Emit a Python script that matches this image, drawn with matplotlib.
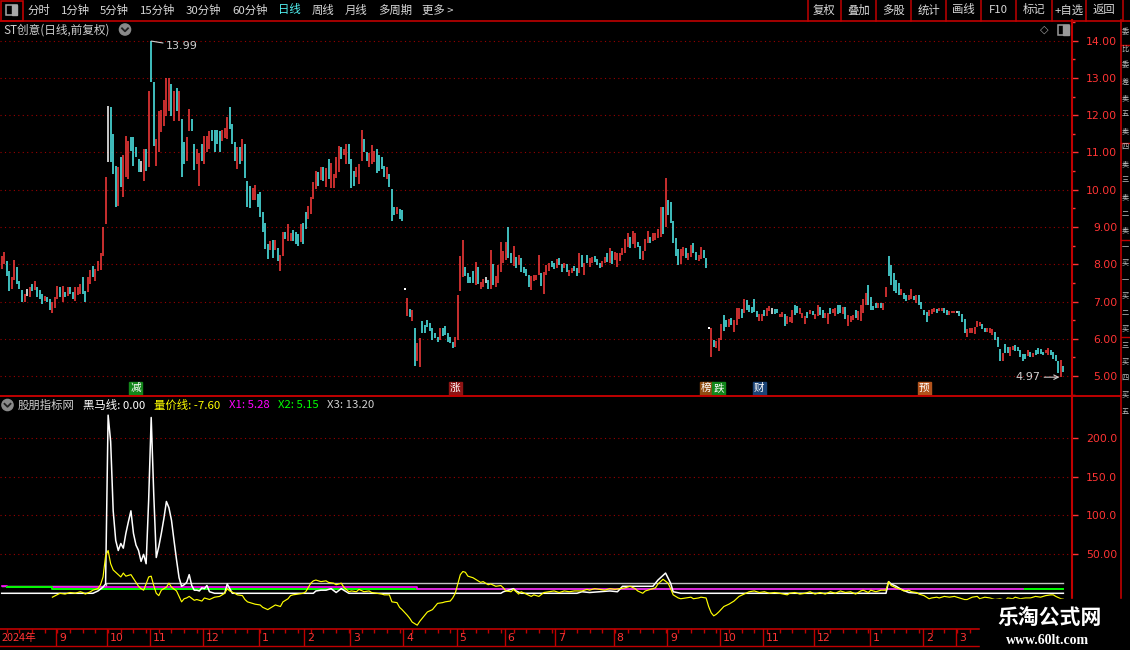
import numpy as np
import matplotlib
matplotlib.use("Agg")
import matplotlib.pyplot as plt
from matplotlib.patches import Rectangle, Circle
from matplotlib import transforms

plt.rcParams['font.family'] = ['Noto Sans CJK SC', 'DejaVu Sans']

# ST创意 daily bars (前复权), one entry per trading day
highs = [
    8.23, 8.32, 8.10, 7.83, 7.65, 8.11, 7.92, 7.56, 7.31, 7.20,
    7.34, 7.38, 7.47, 7.56, 7.40, 7.31, 7.20, 7.16, 7.13, 7.07,
    6.98, 7.11, 7.43, 7.40, 7.43, 7.25, 7.38, 7.40, 7.25, 7.38,
    7.38, 7.47, 7.65, 7.29, 7.65, 7.85, 7.96, 7.87, 8.10, 8.29,
    8.99, 10.35, 12.26, 12.21, 11.50, 10.65, 10.60, 10.87, 10.94, 11.45,
    11.32, 11.42, 11.42, 11.14, 10.82, 10.76, 11.10, 11.10, 12.66, 13.99,
    12.88, 11.36, 12.12, 12.14, 12.41, 13.00, 13.00, 12.84, 12.66, 12.73,
    12.64, 11.90, 11.27, 11.42, 12.17, 11.90, 11.23, 11.10, 10.98, 11.23,
    11.45, 11.45, 11.58, 11.60, 11.60, 11.60, 11.58, 11.60, 11.67, 11.96,
    12.21, 11.76, 11.27, 11.14, 11.14, 11.36, 11.23, 10.24, 10.11, 10.04,
    10.13, 9.88, 9.93, 9.39, 9.12, 8.54, 8.63, 8.65, 8.66, 8.45,
    8.26, 8.86, 8.86, 9.08, 8.83, 8.92, 8.86, 8.81, 9.08, 9.12,
    9.39, 9.57, 9.80, 10.20, 10.51, 10.47, 10.60, 10.60, 10.58, 10.82,
    10.73, 10.42, 10.89, 11.18, 11.14, 11.10, 11.23, 11.23, 10.82, 10.51,
    10.60, 10.69, 11.60, 11.36, 11.00, 10.98, 11.21, 11.03, 11.10, 10.92,
    10.89, 10.64, 10.60, 10.42, 10.02, 9.55, 9.55, 9.48, 9.46, 7.34,
    7.09, 6.79, 6.77, 6.28, 5.88, 6.01, 6.49, 6.37, 6.50, 6.43,
    6.28, 6.16, 6.06, 6.28, 6.28, 6.34, 6.16, 6.06, 5.92, 6.06,
    7.18, 8.22, 8.65, 7.94, 7.76, 7.65, 7.82, 8.07, 7.92, 7.53,
    7.60, 7.67, 7.58, 8.38, 8.01, 7.69, 7.98, 8.61, 8.36, 8.61,
    8.99, 8.29, 8.49, 8.19, 8.25, 8.16, 7.94, 7.86, 7.71, 7.69,
    7.71, 7.71, 8.25, 7.76, 7.78, 7.98, 8.03, 8.10, 8.04, 8.13,
    8.16, 8.01, 8.04, 8.01, 7.85, 7.89, 7.95, 7.89, 8.31, 8.25,
    8.04, 8.25, 8.16, 8.19, 8.22, 8.13, 8.03, 8.10, 8.19, 8.29,
    8.45, 8.36, 8.34, 8.29, 8.31, 8.45, 8.67, 8.85, 8.74, 8.88,
    8.83, 8.61, 8.49, 8.36, 8.67, 8.88, 8.74, 8.83, 8.83, 8.94,
    9.53, 9.55, 10.31, 9.73, 9.68, 9.17, 8.70, 8.40, 8.40, 8.47,
    8.43, 8.29, 8.52, 8.56, 8.34, 8.25, 8.47, 8.38, 8.16, 6.28,
    6.28, 5.98, 5.95, 6.01, 6.41, 6.64, 6.50, 6.52, 6.55, 6.50,
    6.82, 6.82, 6.79, 7.08, 7.04, 6.91, 6.86, 7.06, 6.75, 6.66,
    6.66, 6.77, 6.82, 6.88, 6.82, 6.79, 6.79, 6.66, 6.73, 6.66,
    6.61, 6.59, 6.77, 6.91, 6.88, 6.82, 6.70, 6.61, 6.73, 6.77,
    6.75, 6.66, 6.91, 6.86, 6.77, 6.68, 6.70, 6.82, 6.79, 6.82,
    6.91, 6.91, 6.86, 6.86, 6.64, 6.61, 6.64, 6.77, 6.75, 6.91,
    7.08, 7.24, 7.44, 7.13, 6.88, 6.95, 6.95, 6.95, 6.97, 7.38,
    8.22, 7.98, 7.76, 7.58, 7.50, 7.35, 7.22, 7.17, 7.17, 7.33,
    7.15, 7.17, 7.17, 6.99, 6.77, 6.73, 6.77, 6.79, 6.82, 6.79,
    6.82, 6.82, 6.82, 6.77, 6.75, 6.75, 6.75, 6.75, 6.75, 6.66,
    6.52, 6.25, 6.28, 6.28, 6.31, 6.49, 6.46, 6.41, 6.28, 6.28,
    6.28, 6.25, 6.19, 6.04, 5.72, 5.61, 5.86, 5.77, 5.77, 5.81,
    5.83, 5.79, 5.70, 5.59, 5.60, 5.70, 5.65, 5.63, 5.70, 5.74,
    5.72, 5.65, 5.70, 5.74, 5.70, 5.65, 5.56, 5.41, 5.43, 5.27,
]
lows = [
    7.87, 8.00, 7.68, 7.29, 7.34, 7.58, 7.47, 7.34, 7.00, 7.00,
    7.16, 7.13, 7.27, 7.31, 7.12, 7.07, 6.93, 7.02, 7.00, 6.77,
    6.68, 6.84, 7.07, 7.12, 6.98, 7.12, 7.16, 7.20, 7.07, 7.02,
    7.18, 7.20, 7.20, 6.98, 7.25, 7.47, 7.65, 7.54, 7.83, 7.85,
    8.23, 9.08, 10.74, 10.74, 10.42, 9.53, 9.57, 10.08, 9.81, 10.33,
    10.30, 11.05, 10.65, 10.87, 10.47, 10.47, 10.24, 10.51, 10.60, 12.88,
    11.18, 10.65, 11.00, 11.54, 11.72, 11.99, 12.12, 11.99, 11.85, 12.12,
    11.85, 10.33, 10.69, 10.78, 11.59, 11.59, 10.53, 10.69, 10.11, 10.78,
    10.69, 11.00, 11.10, 11.32, 11.00, 11.23, 11.00, 11.32, 11.40, 11.36,
    11.63, 11.23, 10.78, 10.56, 10.69, 10.76, 10.31, 9.53, 9.51, 9.72,
    9.72, 9.53, 9.26, 8.86, 8.41, 8.14, 8.37, 8.17, 8.37, 8.10,
    7.83, 8.23, 8.68, 8.63, 8.63, 8.62, 8.54, 8.50, 8.59, 8.54,
    8.95, 9.21, 9.35, 9.75, 10.02, 10.11, 10.26, 10.24, 10.08, 10.29,
    10.06, 10.06, 10.31, 10.47, 10.82, 10.94, 10.69, 10.69, 10.06, 10.11,
    10.33, 10.15, 10.78, 11.00, 10.78, 10.60, 10.69, 10.74, 10.44, 10.51,
    10.56, 10.33, 10.29, 10.08, 9.17, 9.31, 9.35, 9.21, 9.17, 7.34,
    6.62, 6.58, 6.49, 5.28, 5.41, 5.25, 6.16, 6.15, 6.33, 6.22,
    5.97, 6.01, 5.92, 5.97, 6.07, 6.10, 5.92, 5.90, 5.74, 5.77,
    5.97, 7.29, 7.67, 7.69, 7.49, 7.51, 7.51, 7.44, 7.47, 7.35,
    7.38, 7.51, 7.35, 7.35, 7.44, 7.38, 7.51, 7.78, 8.03, 8.12,
    8.16, 8.03, 7.95, 7.89, 7.98, 7.80, 7.76, 7.69, 7.40, 7.31,
    7.56, 7.58, 7.71, 7.42, 7.20, 7.71, 7.83, 7.94, 7.86, 7.89,
    7.98, 7.80, 7.89, 7.78, 7.69, 7.76, 7.83, 7.69, 7.76, 7.94,
    7.71, 8.03, 7.94, 8.04, 8.07, 7.98, 7.89, 7.92, 8.04, 8.07,
    8.03, 8.01, 8.12, 7.94, 8.10, 8.25, 8.31, 8.47, 8.43, 8.54,
    8.43, 8.47, 8.13, 8.12, 8.36, 8.56, 8.56, 8.63, 8.65, 8.70,
    8.74, 8.81, 8.99, 9.32, 9.12, 8.58, 8.22, 7.98, 8.01, 8.22,
    8.16, 8.12, 8.19, 8.29, 8.12, 8.10, 8.13, 8.16, 7.89, 6.28,
    5.52, 5.77, 5.74, 5.68, 5.97, 6.22, 6.31, 6.31, 6.37, 6.19,
    6.37, 6.52, 6.55, 6.70, 6.77, 6.73, 6.70, 6.73, 6.59, 6.49,
    6.49, 6.61, 6.61, 6.75, 6.66, 6.66, 6.68, 6.59, 6.59, 6.34,
    6.41, 6.46, 6.43, 6.64, 6.70, 6.66, 6.55, 6.41, 6.57, 6.66,
    6.64, 6.52, 6.61, 6.64, 6.57, 6.55, 6.41, 6.66, 6.68, 6.61,
    6.66, 6.70, 6.66, 6.52, 6.34, 6.46, 6.50, 6.57, 6.50, 6.49,
    6.68, 6.91, 6.91, 6.77, 6.77, 6.84, 6.82, 6.82, 6.77, 7.13,
    7.68, 7.44, 7.29, 7.22, 7.17, 7.17, 7.06, 7.02, 7.04, 7.08,
    7.04, 6.95, 6.91, 6.79, 6.64, 6.46, 6.61, 6.66, 6.73, 6.68,
    6.75, 6.75, 6.70, 6.64, 6.64, 6.68, 6.68, 6.70, 6.61, 6.46,
    6.16, 6.06, 6.16, 6.15, 6.13, 6.31, 6.34, 6.25, 6.19, 6.19,
    6.15, 6.10, 5.98, 5.77, 5.41, 5.41, 5.61, 5.61, 5.54, 5.70,
    5.68, 5.68, 5.52, 5.41, 5.45, 5.54, 5.52, 5.52, 5.56, 5.59,
    5.59, 5.56, 5.61, 5.56, 5.56, 5.45, 5.41, 5.07, 4.97, 5.12,
]
# r = up day, c = down day, w = flat day
dirs = (
    "rrccrrcccr" "wrcrcccrcc" "rrrcrcrccr" "rrccrrcrrr" "rrwcccrcrr"
    "rccccwrcrc" "crrrrrrcrc" "rccrrccrrc" "rrrccccrrr" "cccrcrcccr"
    "rcccccrcrc" "rrcrrcccrc" "crrrrcrcrc" "rrrrcrrccc" "rrrccrrrcc"
    "ccrcccrccw"
    "rcrcrrcccc" "cccrcccccr" "rrrccccrcr" "rwcrcrrrrr" "ccrcrccccr"
    "rrrcrrrccr" "ccrcrrccrc" "rcrrcccrrc" "rcrrrrrrcr" "rccrrrcrrr"
    "rcrcccccrr" "crrccrrccw"
    "rcrrrccrcr" "rrcrcccccr" "rcrrwccrrc" "rrrccrrrcr" "crrccrrcrr"
    "ccrcrrrcrr" "rrccccrcrr" "cccccrccrr" "crccccrrrc" "rrccrrrwcc"
    "crrrrrrccr" "rrcccrccrr" "cccccrcrcc" "ccrrccccrc"
)

# first trading day of each month (bar index) and its label
month_start = [22, 42, 59, 80, 102, 120, 138, 159, 180, 199,
               219, 242, 263, 284, 301, 321, 343, 364, 377]
month_names = ['9', '10', '11', '12', '1', '2', '3', '4', '5', '6',
               '7', '8', '9', '10', '11', '12', '1', '2', '3']

# event badges under the candles
events = ['减', '涨', '榜', '跌', '财', '预']
event_days = [53, 179, 278, 283, 299, 364]
event_colors = ['#13861a', '#8e1414', '#8f4c12', '#12861a', '#1c4476', '#b2531c']

# 量价线 (yellow), read at these bars
vp_days = [
    20, 23, 25, 27, 29, 31, 32, 33, 35, 36,
    38, 39, 40, 41, 42, 43, 44, 46, 47, 48,
    49, 51, 52, 54, 55, 56, 57, 58, 59, 60,
    61, 62, 63, 65, 66, 67, 69, 70, 71, 72,
    73, 74, 76, 77, 79, 80, 82, 84, 86, 88,
    89, 90, 92, 93, 95, 96, 97, 99, 100, 102,
    103, 105, 106, 108, 110, 111, 113, 114, 115, 117,
    119, 120, 122, 123, 124, 126, 128, 129, 131, 132,
    134, 135, 137, 138, 140, 141, 143, 145, 146, 148,
    150, 151, 153, 154, 156, 157, 158, 160, 161, 162,
    164, 165, 166, 167, 168, 170, 171, 172, 174, 175,
    177, 178, 179, 180, 181, 182, 183, 184, 186, 187,
    189, 190, 192, 193, 195, 197, 198, 199, 201, 202,
    204, 205, 207, 209, 210, 212, 214, 216, 218, 220,
    222, 224, 226, 229, 231, 232, 234, 236, 238, 240,
    242, 244, 246, 247, 248, 250, 251, 253, 254, 256,
    258, 259, 260, 261, 263, 264, 265, 266, 267, 268,
    270, 272, 273, 275, 276, 278, 279, 280, 281, 282,
    283, 285, 287, 289, 291, 293, 295, 297, 299, 301,
    303, 305, 307, 310, 311, 313, 315, 317, 319, 321,
    323, 325, 327, 329, 331, 333, 335, 337, 339, 340,
    342, 343, 345, 347, 349, 350, 351, 353, 355, 356,
    358, 359, 361, 362, 364, 366, 367, 369, 370, 372,
    374, 376, 378, 380, 381, 383, 385, 386, 388, 390,
    392, 394, 396, 397, 399, 400, 402, 404, 406, 408,
    410, 412, 414, 415, 416, 418, 419,
]
vp_vals = [
    -5, 0, -1, 1, 0, 2, 1, -1, 2, 4,
    6, 11, 21, 48, 55, 38, 30, 24, 21, 26,
    22, 24, 19, 9, 6, 4, 12, 21, 22, 10,
    0, -3, 4, 8, 13, 8, 3, -4, -11, -7,
    -6, -4, -9, -8, -10, -6, -8, -5, -4, 0,
    6, 3, 0, -2, -3, -8, -11, -13, -14, -15,
    -18, -21, -19, -15, -17, -11, -7, -3, -2, -1,
    0, 2, 13, 16, 17, 15, 16, 14, 13, 11,
    13, 8, 2, 3, 2, 5, 2, 3, 1, 0,
    -1, -2, -2, -11, -12, -18, -21, -28, -32, -37,
    -41, -36, -32, -28, -24, -21, -17, -13, -12, -11,
    -10, -6, 0, 12, 24, 28, 27, 22, 20, 18,
    14, 15, 11, 12, 9, 10, 7, 3, 2, 5,
    -1, 2, -1, -4, -2, -4, 1, 2, 3, 1,
    3, 2, 3, 3, 5, 4, 6, 5, 4, 6,
    5, 6, 7, 8, 9, 6, 3, 0, 3, 5,
    7, 12, 15, 18, 13, 6, -2, -4, -6, -7,
    -6, -5, -7, -6, -5, -6, -17, -25, -29, -27,
    -24, -17, -14, -10, -4, -1, 2, 3, 1, 2,
    0, 1, 0, -2, 0, 1, -1, 0, 2, -1,
    1, -1, 2, 0, 3, 1, 2, -1, 3, 4,
    1, 4, 2, 4, 4, 15, 10, 7, 5, 3,
    4, 2, 1, -1, -3, -7, -6, -5, -6, -4,
    -5, -4, -6, -8, -8, -5, -4, -7, -5, -6,
    -8, -7, -9, -6, -7, -5, -7, -6, -6, -4,
    -5, -3, -2, -2, -4, -7, -7.6,
]

# 黑马线 (white)
hm_days = [0, 36, 38, 40, 41,
           42, 43, 44, 45, 46, 47, 48, 49, 50, 51,
           52, 53, 54, 55, 56, 57, 58, 59, 60, 61,
           62, 63, 64, 65, 66, 67, 68, 69, 70, 71,
           72, 73, 74, 75, 76, 77, 78, 79, 80, 81,
           82, 84, 88, 89, 90, 91,
           123, 124, 126, 128, 130, 132, 134, 136, 137,
           197, 198, 200, 202, 203, 205,
           227, 229, 232, 236, 240, 243, 245, 250, 257, 259, 262, 264, 265, 268,
           349, 350, 351, 353, 355, 358, 362, 419]
hm_vals = [0, 0, 3, 8, 12,
           229, 195, 106, 68, 55, 64, 58, 77, 92, 106,
           77, 62, 55, 41, 50, 38, 120, 226, 128, 46,
           60, 77, 96, 118, 110, 94, 68, 43, 20, 9,
           11, 14, 24, 10, 4, 4, 3, 7, 6, 10,
           2, 0, 0, 12, 6, 0,
           0, 3, 4, 4, 6, 1, 6, 2, 0,
           0, 2, 4, 6, 3, 0,
           0, 2, 1, 2, 3, 2, 9, 9, 9, 17, 26, 13, 2, 0,
           0, 15, 12, 9, 5, 1, 0, 0]

# X1 / X2 / X3 are step lines: level k holds from breaks[k] to breaks[k+1]
x1_breaks = [0, 2, 164, 404]
x1_levels = [9.4, 8.4, 5.28]
x2_breaks = [2, 20, 164, 420]
x2_levels = [8.5, 6.0, 5.15]
x3_breaks = [0, 41, 420]
x3_levels = [9.0, 13.2]

W, H = 1130, 650
RED = '#ff3434'
AXRED = '#c00000'
GRID = '#9a0000'
CYAN = '#52f2f2'
GRAY = '#cfcfcf'

fig = plt.figure(figsize=(W / 100, H / 100), dpi=100, facecolor='black')


def px_axes(x0, y0, x1, y1, **kw):
    a = fig.add_axes([x0 / W, 1 - y1 / H, (x1 - x0) / W, (y1 - y0) / H], **kw)
    a.set_facecolor('black')
    for s in a.spines.values():
        s.set_visible(False)
    return a


def steps(breaks, levels):
    d = np.arange(breaks[0], breaks[-1])
    v = np.repeat(levels, np.diff(breaks))
    return d, v


n = len(highs)
xs = np.arange(n)
XL = (-0.67, 422.4)

# ---------------- price panel ----------------
ax = px_axes(0, 20, 1072, 396)
ax.set_xlim(*XL)
ax.set_ylim(4.465, 14.556)
for p in range(5, 15):
    ax.axhline(p, color=GRID, lw=0.8, ls=(0, (1, 3)))
colmap = {'r': '#ff3c3c', 'c': CYAN, 'w': '#ffffff'}
ax.vlines(xs, lows, highs, colors=[colmap[d] for d in dirs], lw=1.1)
flat = [i for i in range(n) if highs[i] == lows[i]]
ax.scatter(flat, [highs[i] for i in flat], marker='s', s=3, color='white', linewidths=0)

ax.set_xticks([])
ax.yaxis.tick_right()
ax.set_yticks(range(5, 15))
ax.set_yticklabels([f'{p:.2f}' for p in range(5, 15)])
ax.set_yticks(np.arange(4.5, 14.6, 0.5), minor=True)
ax.tick_params(axis='y', which='major', colors=RED, length=4, width=1, pad=28.5,
               labelsize=7.8, labelfontfamily='DejaVu Sans')
ax.tick_params(axis='y', which='minor', colors=RED, length=2.2, width=1)
for t in ax.get_yticklabels():
    t.set_ha('right')

imax = int(np.argmax(highs))
imin = int(np.argmin(lows))
ax.annotate(f'{highs[imax]:.2f}', xy=(imax, highs[imax]), xytext=(10.5, -3.5),
            textcoords='offset points', color=GRAY, fontsize=8, va='center',
            family='DejaVu Sans',
            arrowprops=dict(arrowstyle='-', color=GRAY, lw=0.8, shrinkA=0, shrinkB=0))
ax.annotate(f'{lows[imin]:.2f}', xy=(imin, lows[imin]), xytext=(-15, 0),
            textcoords='offset points', color=GRAY, fontsize=8, va='center', ha='right',
            family='DejaVu Sans',
            arrowprops=dict(arrowstyle='->', color=GRAY, lw=0.8, shrinkA=1, shrinkB=1))

bt = transforms.blended_transform_factory(ax.transData, ax.transAxes)
bw = 13 / 2.534
for d, lab, c in zip(event_days, events, event_colors):
    ax.add_patch(Rectangle((d - bw / 2, 0.003), bw, 0.035, transform=bt,
                           color=c, clip_on=False, zorder=4))
    ax.text(d, 0.021, lab, transform=bt, ha='center', va='center', color='white',
            fontsize=7.6, zorder=5)

# ---------------- indicator panel ----------------
ai = px_axes(0, 396, 1072, 629)
ai.set_xlim(*XL)
ai.set_ylim(-45.9, 253.6)
for v in (50, 100, 150, 200):
    ai.axhline(v, color=GRID, lw=0.8, ls=(0, (1, 3)))
ai.plot(*steps(x3_breaks, x3_levels), color='#c4c4c4', lw=1.0, drawstyle='steps-post')
ai.plot(*steps(x1_breaks, x1_levels), color='#ff00ff', lw=1.2, drawstyle='steps-post')
d2, v2 = steps(x2_breaks, x2_levels)
left = d2 < x1_breaks[2]
ai.plot(d2[left], v2[left], color='#00ff00', lw=1.4, drawstyle='steps-post', zorder=2.5)
ai.plot(d2[~left], v2[~left], color='#00ff00', lw=1.4, drawstyle='steps-post', zorder=1.5)
ai.plot(hm_days, hm_vals, color='white', lw=1.1, zorder=3)
ai.plot(vp_days, vp_vals, color='#ffff00', lw=0.85, zorder=3.5)
ai.set_xticks([])
ai.yaxis.tick_right()
ai.set_yticks([50, 100, 150, 200])
ai.set_yticklabels(['50.00', '100.0', '150.0', '200.0'])
ai.tick_params(axis='y', colors=RED, length=4, width=1, pad=28.5,
               labelsize=7.8, labelfontfamily='DejaVu Sans')
for t in ai.get_yticklabels():
    t.set_ha('right')

# ---------------- date axis ----------------
ad = px_axes(0, 629, 1072, 646)
ad.set_xlim(*XL)
ad.set_ylim(1, 0)
ad.set_xticks([])
ad.set_yticks([])
ad.vlines(np.arange(2, n, 5), 0, 0.25, color=AXRED, lw=1)
for d, m in zip(month_start, month_names):
    ad.axvline(d - 0.5, color=AXRED, lw=1)
    ad.text(d + 0.7, 0.55, m, color=RED, fontsize=7.8, va='center', ha='left',
            family='DejaVu Sans')
ad.text(0.1, 0.55, '2024年', color=RED, fontsize=7.8, va='center', ha='left')

# ---------------- frame, toolbar, labels ----------------
ov = fig.add_axes([0, 0, 1, 1], zorder=10)
ov.set_xlim(0, W)
ov.set_ylim(H, 0)
ov.axis('off')

ov.plot([0, W], [20.5, 20.5], color=AXRED, lw=1.2)
ov.plot([0, 1120], [396, 396], color=AXRED, lw=1.4)
ov.plot([0, 1072], [629, 629], color=AXRED, lw=1.2)
ov.plot([0, 1072], [646, 646], color=AXRED, lw=1.0)
ov.plot([1072, 1072], [20, 646], color=AXRED, lw=1.5)
ov.plot([1120.5, 1120.5], [20, 650], color=AXRED, lw=1.2)
for yy in (45, 143, 240, 337):
    ov.plot([1121, 1130], [yy, yy], color=AXRED, lw=1.0)

# left toggle icon
ov.add_patch(Rectangle((0.5, 0.5), 22.5, 20, fill=False, ec=AXRED, lw=1.2))
ov.add_patch(Rectangle((6, 5), 11, 10, fill=False, ec='#a8a8a8', lw=1.1))
ov.add_patch(Rectangle((12, 5), 5, 10, color='#a8a8a8'))

tool_items = [('分时', 28), ('1分钟', 61), ('5分钟', 100), ('15分钟', 140),
              ('30分钟', 186), ('60分钟', 232), ('日线', 278), ('周线', 312),
              ('月线', 345), ('多周期', 378), ('更多 >', 422)]
for t, x in tool_items:
    ov.text(x, 10, t, color=CYAN if t == '日线' else '#d8d8d8', fontsize=8.2,
            va='center', ha='left')

seps = [807.5, 841.4, 876, 911, 946, 981, 1016, 1051.5, 1086.4, 1122.5]
buttons = ['复权', '叠加', '多股', '统计', '画线', 'F10', '标记', '+自选', '返回']
for xx in seps:
    ov.plot([xx, xx], [0, 20.5], color=AXRED, lw=1.1)
for i, b in enumerate(buttons):
    ov.text((seps[i] + seps[i + 1]) / 2, 10, b, color='#d8d8d8', fontsize=8.2,
            va='center', ha='center')

ov.text(3, 30, 'ST创意(日线,前复权)', color=GRAY, fontsize=8.4, va='center', ha='left')
for cx, cy in ((125, 29.5), (7.5, 405)):
    ov.add_patch(Circle((cx, cy), 5.6, color='#8a8a8a'))
    ov.plot([cx - 3, cx, cx + 3], [cy - 1.2, cy + 1.8, cy - 1.2], color='#202020', lw=1.3)

ov.text(1044, 29.5, '◇', color='#a0a0a0', fontsize=8, va='center', ha='center',
        family='DejaVu Sans')
ov.add_patch(Rectangle((1057.5, 24.5), 11, 10, fill=False, ec='#9a9a9a', lw=1.1))
ov.add_patch(Rectangle((1063, 24.5), 5.5, 10, color='#9a9a9a'))

legend = [('股朋指标网', 18, GRAY), ('黑马线: 0.00', 83, 'white'),
          ('量价线: -7.60', 154, '#ffff00'), ('X1: 5.28', 229, '#ff00ff'),
          ('X2: 5.15', 278, '#00ff00'), ('X3: 13.20', 327, GRAY)]
for t, x, c in legend:
    ov.text(x, 405, t, color=c, fontsize=8.2, va='center', ha='left')

# right-hand side strip
strip = '委比委差卖五卖四卖三卖二卖一买一买二买三买四买五'
for k, ch in enumerate(strip):
    ov.text(1121.8, 32 + k * 16.5, ch, color='#bdbdbd', fontsize=5.2,
            va='center', ha='left')

# watermark
ov.add_patch(Rectangle((980, 599), 150, 51, color='black', zorder=3))
ov.text(1050, 617, '乐淘公式网', color='white', fontsize=15, weight='bold',
        va='center', ha='center', zorder=4)
ov.text(1048, 641, 'www.60lt.com', color='white', fontsize=10, weight='bold',
        family='Liberation Serif', va='center', ha='center', zorder=4)

fig.savefig('out.png', dpi=100, facecolor='black')
